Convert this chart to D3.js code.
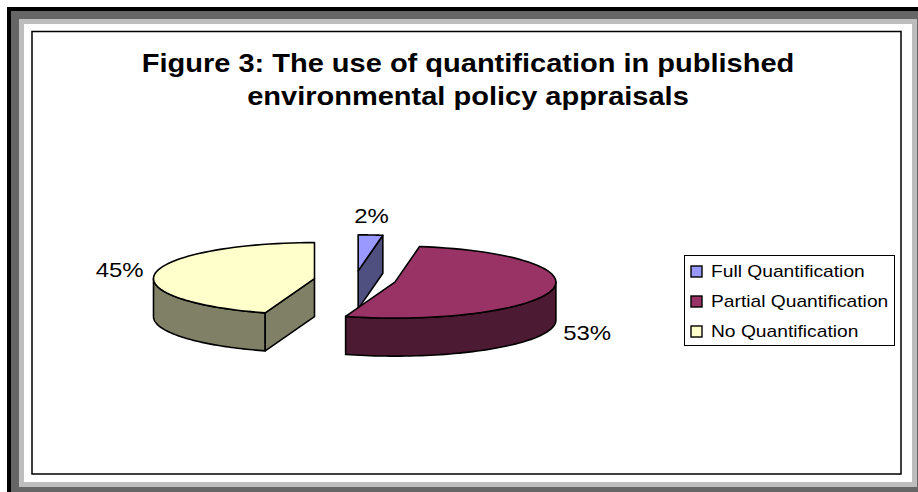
<!DOCTYPE html>
<html>
<head>
<meta charset="utf-8">
<script src="https://cdn.jsdelivr.net/npm/d3@7"></script>
<style>
  html, body { margin: 0; padding: 0; background: #fff; }
  svg { display: block; }
  text { font-family: "Liberation Sans", Arial, sans-serif; fill: #000; }
</style>
</head>
<body>
<svg id="chart" width="918" height="492"></svg>
<script>
'use strict'
// data
var categories = ['Full Quantification', 'Partial Quantification', 'No Quantification'];
var shares = [2.45, 52.5, 45.05];
var topColors = ['#9999FF', '#993366', '#FFFFCC'];
var sideColors = ['#4F4F80', '#4D1A33', '#808066'];
var titleLines = ['Figure 3: The use of quantification in published', 'environmental policy appraisals'];

var W = 918, H = 492;
var svg = d3.select('#chart');

// the picture was stretched sideways, so the text is wider than its height
function stretch(sel, k) {
    sel.each(function(){
        this.setAttribute('textLength', this.getComputedTextLength() * k);
        this.setAttribute('lengthAdjust', 'spacingAndGlyphs');
    });
}

// nested picture frame
function frame(x, y, x2, y2, fill) {
    svg.append('rect').attr('x', x).attr('y', y)
        .attr('width', x2 - x).attr('height', y2 - y).attr('fill', fill);
}
frame(0, 0, W, H, '#fff');
frame(7, 7, W, H, '#000');
frame(11, 11, W, H, '#666');
frame(19, 19, 917, 487, '#bdbdbd');
frame(24, 24, 912, 482, '#fff');
svg.append('rect').attr('x', 32).attr('y', 31.5).attr('width', 869).attr('height', 442.5)
    .attr('fill', '#fff').attr('stroke', '#000').attr('stroke-width', 1.5);

// title
svg.append('g').selectAll('text').data(titleLines).join('text')
    .attr('x', 468)
    .attr('y', function(d, i){ return 72 + i * 33; })
    .attr('text-anchor', 'middle')
    .attr('font-size', 25)
    .attr('font-weight', 'bold')
    .text(function(d){ return d; })
    .call(stretch, 1.16);

// pie geometry
var cx = 355, cy = 280, rx = 161, ry = 36, depth = 38, explode = 41;
var tilt = ry / rx;

var slices = d3.pie().sort(null).value(function(d){ return d; })(shares);

slices.forEach(function(s){
    var mid = (s.startAngle + s.endAngle) / 2;
    s.mid = mid;
    s.cx = cx + Math.sin(mid) * explode;
    s.cy = cy - Math.cos(mid) * explode * tilt;
});

function rim(s, a, dy) {
    return [s.cx + Math.sin(a) * rx, s.cy - Math.cos(a) * ry + (dy || 0)];
}

var line = d3.line();

function arcPoints(s, a0, a1, dy) {
    return d3.range(0, 61).map(function(i){
        return rim(s, a0 + (a1 - a0) * i / 60, dy);
    });
}

var pieG = svg.append('g').attr('stroke', '#000').attr('stroke-width', 1.6).attr('stroke-linejoin', 'round');

// order: yellow at the back left, blue behind the magenta
[2, 0, 1].forEach(function(i){
    var s = slices[i];
    var g = pieG.append('g');
    var c = [s.cx, s.cy];

    // round outer wall, only the part facing the viewer
    var a0 = Math.max(s.startAngle, Math.PI / 2);
    var a1 = Math.min(s.endAngle, Math.PI * 1.5);
    if (a1 > a0) {
        var wall = arcPoints(s, a0, a1, 0).concat(arcPoints(s, a1, a0, depth));
        g.append('path').attr('d', line(wall) + 'Z').attr('fill', sideColors[i]);
    }

    // cut faces that can be seen
    var cuts = [];
    if (s.startAngle > Math.PI && s.startAngle < Math.PI * 2) cuts.push(s.startAngle);
    if (s.endAngle < Math.PI) cuts.push(s.endAngle);
    cuts.forEach(function(a){
        var p = rim(s, a, 0);
        g.append('path')
            .attr('d', line([c, p, [p[0], p[1] + depth], [c[0], c[1] + depth]]) + 'Z')
            .attr('fill', sideColors[i]);
    });

    // top face
    g.append('path')
        .attr('d', line([c].concat(arcPoints(s, s.startAngle, s.endAngle, 0))) + 'Z')
        .attr('fill', topColors[i]);
});

// percent labels around the slices
var padX = 12, padY = 19;
svg.append('g').selectAll('text').data(slices).join('text')
    .attr('x', function(d){ return d.cx + Math.sin(d.mid) * (rx + padX); })
    .attr('y', function(d){
        var y = d.cy - Math.cos(d.mid) * (ry + padY);
        return Math.cos(d.mid) < 0 ? y + depth : y;
    })
    .attr('dy', '0.35em')
    .attr('text-anchor', function(d){
        var sx = Math.sin(d.mid);
        return sx > 0.5 ? 'start' : sx < -0.5 ? 'end' : 'middle';
    })
    .attr('font-size', 21)
    .text(function(d){ return d3.format('.0f')(d.data) + '%'; })
    .call(stretch, 1.14);

// legend
var legend = svg.append('g').attr('transform', 'translate(684,255)');
legend.append('rect').attr('x', 0.5).attr('y', 0.5).attr('width', 210).attr('height', 90)
    .attr('fill', '#fff').attr('stroke', '#000').attr('stroke-width', 1);
var legendY = d3.scalePoint().domain(categories).range([16, 76]);
var items = legend.selectAll('g').data(categories).join('g')
    .attr('transform', function(d){ return 'translate(0,' + legendY(d) + ')'; });
items.append('rect')
    .attr('x', 7).attr('y', -5).attr('width', 11).attr('height', 11)
    .attr('fill', function(d, i){ return topColors[i]; })
    .attr('stroke', '#000').attr('stroke-width', 1.4);
items.append('text')
    .attr('x', 27).attr('y', 6)
    .attr('font-size', 17)
    .text(function(d){ return d; })
    .call(stretch, 1.13);
</script>
</body>
</html>
